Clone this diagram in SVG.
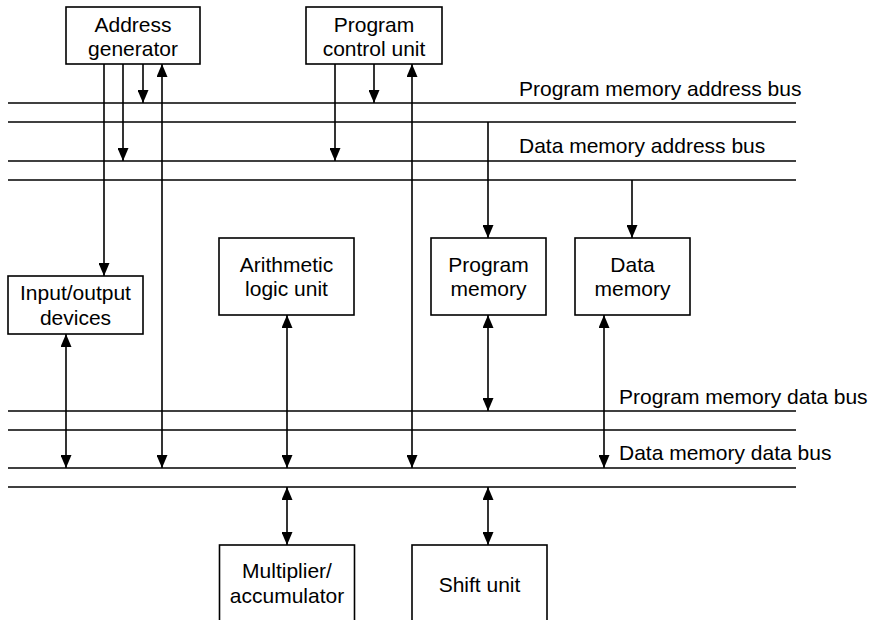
<svg xmlns="http://www.w3.org/2000/svg" width="879" height="620" viewBox="0 0 879 620">
<style>
.box{fill:#fff;stroke:#000;stroke-width:1.6}
.bus{stroke:#000;stroke-width:1.6;fill:none}
.c{stroke:#000;stroke-width:1.6;fill:none}
text{font-family:"Liberation Sans",Arial,sans-serif;font-size:21px;fill:#000}
.m{text-anchor:middle}
</style>
<defs>
<marker id="ah" markerUnits="userSpaceOnUse" markerWidth="13" markerHeight="11" refX="13" refY="5.5" orient="auto-start-reverse" viewBox="0 0 13 11">
<path d="M0,0 L13,5.5 L0,11 z" fill="#000"/>
</marker>
</defs>
<rect width="879" height="620" fill="#fff"/>
<g id="buses">
<line class="bus" x1="8" y1="103" x2="796" y2="103"/>
<line class="bus" x1="8" y1="122" x2="796" y2="122"/>
<line class="bus" x1="8" y1="161" x2="796" y2="161"/>
<line class="bus" x1="8" y1="180" x2="796" y2="180"/>
<line class="bus" x1="8" y1="411" x2="796" y2="411"/>
<line class="bus" x1="8" y1="430" x2="796" y2="430"/>
<line class="bus" x1="8" y1="468" x2="796" y2="468"/>
<line class="bus" x1="8" y1="487" x2="796" y2="487"/>
<text x="519" y="96">Program memory address bus</text>
<text x="519" y="153">Data memory address bus</text>
<text x="619" y="404">Program memory data bus</text>
<text x="619" y="460">Data memory data bus</text>
</g>
<g id="connectors">
<line class="c" x1="104" y1="64" x2="104" y2="276" marker-end="url(#ah)"/>
<line class="c" x1="123" y1="64" x2="123" y2="161" marker-end="url(#ah)"/>
<line class="c" x1="143" y1="64" x2="143" y2="103" marker-end="url(#ah)"/>
<line class="c" x1="162" y1="64" x2="162" y2="468" marker-start="url(#ah)" marker-end="url(#ah)"/>
<line class="c" x1="335" y1="64" x2="335" y2="161" marker-end="url(#ah)"/>
<line class="c" x1="374" y1="64" x2="374" y2="103" marker-end="url(#ah)"/>
<line class="c" x1="412" y1="64" x2="412" y2="468" marker-start="url(#ah)" marker-end="url(#ah)"/>
<line class="c" x1="488" y1="122" x2="488" y2="238" marker-end="url(#ah)"/>
<line class="c" x1="632" y1="180" x2="632" y2="238" marker-end="url(#ah)"/>
<line class="c" x1="66" y1="334" x2="66" y2="468" marker-start="url(#ah)" marker-end="url(#ah)"/>
<line class="c" x1="287" y1="315" x2="287" y2="468" marker-start="url(#ah)" marker-end="url(#ah)"/>
<line class="c" x1="488" y1="315" x2="488" y2="411" marker-start="url(#ah)" marker-end="url(#ah)"/>
<line class="c" x1="604" y1="315" x2="604" y2="468" marker-start="url(#ah)" marker-end="url(#ah)"/>
<line class="c" x1="287" y1="487" x2="287" y2="545" marker-start="url(#ah)" marker-end="url(#ah)"/>
<line class="c" x1="488" y1="487" x2="488" y2="545" marker-start="url(#ah)" marker-end="url(#ah)"/>
</g>
<g id="address-generator">
<rect class="box" x="66" y="7" width="134" height="57"/>
<text class="m" x="133" y="32">Address</text>
<text class="m" x="133" y="56">generator</text>
</g>
<g id="program-control-unit">
<rect class="box" x="306" y="7" width="136" height="57"/>
<text class="m" x="374" y="32">Program</text>
<text class="m" x="374" y="56">control unit</text>
</g>
<g id="io-devices">
<rect class="box" x="8" y="276" width="135" height="58"/>
<text class="m" x="75.5" y="300">Input/output</text>
<text class="m" x="75.5" y="325">devices</text>
</g>
<g id="alu">
<rect class="box" x="219" y="238" width="135" height="77"/>
<text class="m" x="286.5" y="272">Arithmetic</text>
<text class="m" x="286.5" y="296">logic unit</text>
</g>
<g id="program-memory">
<rect class="box" x="431" y="238" width="115" height="77"/>
<text class="m" x="488.5" y="272">Program</text>
<text class="m" x="488.5" y="296">memory</text>
</g>
<g id="data-memory">
<rect class="box" x="575" y="238" width="115" height="77"/>
<text class="m" x="632.5" y="272">Data</text>
<text class="m" x="632.5" y="296">memory</text>
</g>
<g id="multiplier-accumulator">
<rect class="box" x="219.5" y="545" width="135" height="80"/>
<text class="m" x="287" y="578">Multiplier/</text>
<text class="m" x="287" y="603">accumulator</text>
</g>
<g id="shift-unit">
<rect class="box" x="412" y="545" width="135" height="80"/>
<text class="m" x="479.5" y="592">Shift unit</text>
</g>
</svg>
